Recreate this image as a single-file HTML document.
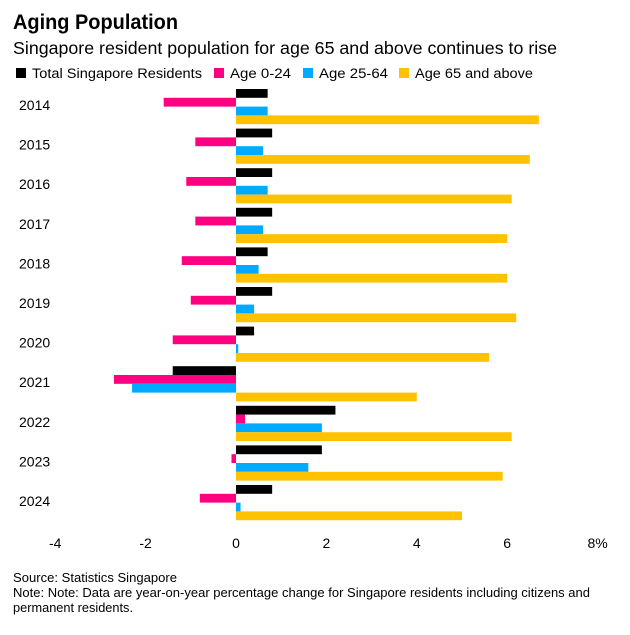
<!DOCTYPE html>
<html><head><meta charset="utf-8"><style>
body{margin:0;background:#fff;font-family:"Liberation Sans",Arial,sans-serif;}
svg text{font-family:"Liberation Sans",Arial,sans-serif;}
</style></head><body>
<svg id="chart" width="630" height="630" xmlns="http://www.w3.org/2000/svg">
<text x="13" y="29" font-size="21" font-weight="bold" fill="#000" textLength="165" lengthAdjust="spacingAndGlyphs">Aging Population</text>
<text x="13" y="54" font-size="17.5" fill="#000" textLength="544" lengthAdjust="spacingAndGlyphs">Singapore resident population for age 65 and above continues to rise</text>
<g id="legend"></g>
<g id="bars"></g>
<g id="xaxis"></g>
<text x="13" y="582" font-size="12.5" fill="#000" textLength="164" lengthAdjust="spacingAndGlyphs">Source: Statistics Singapore</text>
<text x="13" y="597" font-size="12.5" fill="#000" textLength="577" lengthAdjust="spacingAndGlyphs">Note: Note: Data are year-on-year percentage change for Singapore residents including citizens and</text>
<text x="13" y="612" font-size="12.5" fill="#000" textLength="120" lengthAdjust="spacingAndGlyphs">permanent residents.</text>
</svg>
<script>
const years=["2014","2015","2016","2017","2018","2019","2020","2021","2022","2023","2024"];
const total=[0.7,0.8,0.8,0.8,0.7,0.8,0.4,-1.4,2.2,1.9,0.8];
const age0_24=[-1.6,-0.9,-1.1,-0.9,-1.2,-1.0,-1.4,-2.7,0.2,-0.1,-0.8];
const age25_64=[0.7,0.6,0.7,0.6,0.5,0.4,0.05,-2.3,1.9,1.6,0.1];
const age65=[6.7,6.5,6.1,6.0,6.0,6.2,5.6,4.0,6.1,5.9,5.0];
const seriesNames=["Total Singapore Residents","Age 0-24","Age 25-64","Age 65 and above"];
const tickVals=[-4,-2,0,2,4,6,8];
const tickLabels=["-4","-2","0","2","4","6","8%"];
const NS="http://www.w3.org/2000/svg";
const colors=["#000000","#ff0080","#00aaff","#ffc200"];
const series=[total,age0_24,age25_64,age65];
const x=v=>236+v*45.2;
const rowTop=i=>89+i*39.6;
const bh=8.8;
function mk(tag,attrs,parent){const e=document.createElementNS(NS,tag);for(const k in attrs)e.setAttribute(k,attrs[k]);parent.appendChild(e);return e;}
const bars=document.getElementById('bars');
years.forEach((y,i)=>{
  const t=mk('text',{x:19,y:rowTop(i)+21,'font-size':14,fill:'#000'},bars);
  
  
  t.textContent=y;
  series.forEach((s,j)=>{
    const v=s[i];
    const r=mk('rect',{x:Math.min(x(0),x(v)),y:rowTop(i)+j*bh,width:Math.abs(x(v)-x(0)),height:bh,fill:colors[j]},bars);
    
    
  });
});
const ax=document.getElementById('xaxis');
tickVals.forEach((v,i)=>{
  const t=mk('text',{x:x(v),y:548,'font-size':14,fill:'#000','text-anchor':'middle'},ax);
  
  
  t.textContent=tickLabels[i];
});
const lg=document.getElementById('legend');
const lx=[16,214,303,399];
const lw=[170,61,69,118];
seriesNames.forEach((n,j)=>{
  const r=mk('rect',{x:lx[j],y:68,width:10,height:10,fill:colors[j]},lg);
  
  
  const t=mk('text',{x:lx[j]+16,y:78,'font-size':13.5,fill:'#000',textLength:lw[j],lengthAdjust:'spacingAndGlyphs'},lg);
  
  
  t.textContent=n;
});
</script>
</body></html>
